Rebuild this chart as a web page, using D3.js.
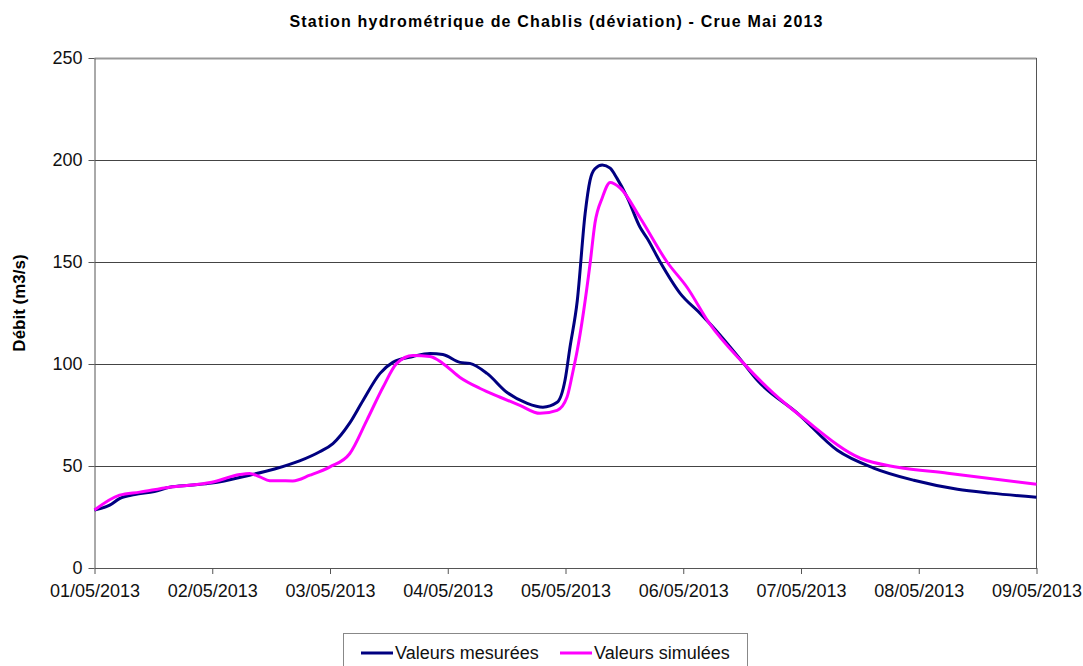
<!DOCTYPE html>
<html>
<head>
<meta charset="utf-8">
<script src="https://cdn.jsdelivr.net/npm/d3@7"></script>
<style>
  body { margin: 0; background: #fff; }
  svg { font-family: "Liberation Sans", Arial, sans-serif; }
  .axis path, .axis line { stroke: #555; }
  .axis text { font-size: 18px; fill: #111; }
</style>
</head>
<body>
<div id="chart"></div>
<script>
// hours after 01/05/2013 00:00
var hoursMes = [0, 3.1, 5.1, 8.2, 12.2, 15.3, 19.4, 23.9, 31.6, 36.7, 41.8, 45.9, 48.6, 52, 54.7, 58.2, 60.8, 64.9, 68.4, 71, 74.5, 76.5, 80, 84.1, 88.2, 91.4, 94.3, 95.9, 96.9, 98.4, 100, 101, 102, 103.5, 105.1, 106.5, 108.6, 111.2, 112.7, 115.3, 119.4, 123.5, 126.1, 132.3, 135.1, 143.3, 151.4, 158.8, 167, 175.9, 182.7, 192];
var valeursMes = [28.4, 30.8, 34, 36, 37.5, 39.6, 40.6, 41.6, 45.5, 48.5, 52.5, 57, 61, 71, 82, 95.4, 100.8, 103.7, 105.2, 104.7, 100.8, 100.3, 95.4, 86, 80.7, 78.8, 81.2, 92, 108, 131, 173.7, 190, 195.7, 197.6, 196, 191, 181.6, 167, 161.4, 150, 134.5, 124.7, 118, 100.3, 92, 75.8, 57.7, 49, 43, 38.6, 36.7, 34.7];

var hoursSim = [0, 5.1, 9.2, 15.3, 23.9, 29.6, 31.6, 33.7, 35.7, 40.4, 43.9, 48, 52, 55.5, 58.8, 61.6, 64.9, 68.4, 71, 74.5, 78.6, 82.7, 86.7, 90.8, 94.3, 96.3, 97.4, 98.4, 101, 102, 103.5, 105.1, 107.1, 111.2, 116.7, 120.8, 125.3, 132.3, 138.4, 144.5, 156.1, 163.7, 173.9, 192];
var valeursSim = [28.4, 35.7, 37.2, 39.6, 42, 45.8, 46.3, 44.7, 42.8, 42.7, 45.5, 49.6, 56, 72.4, 88.6, 100.3, 104.2, 103.7, 100.3, 93.4, 88, 83.7, 79.7, 75.8, 77.3, 83.7, 95, 106.7, 149, 169, 181.5, 189, 186.4, 171.7, 150, 137.5, 120, 100.3, 85.6, 73.4, 53.8, 49.4, 46.5, 41];

var yTicks = [0, 50, 100, 150, 200, 250];
var seriesNames = ["Valeurs mesurées", "Valeurs simulées"];
var seriesColours = ["#000080", "#ff00ff"];

var margin = {top: 58, right: 46.5, bottom: 98, left: 94.5};
var width = 1083 - margin.left - margin.right;
var height = 666 - margin.top - margin.bottom;

var svg = d3.select("#chart")
            .append("svg")
              .attr("width", 1083)
              .attr("height", 666);

var chart = svg.append("g")
               .attr("transform", "translate(" + margin.left + "," + margin.top + ")");

var start = new Date(2013, 4, 1);
function toDate(h) {
  return new Date(start.getTime() + h * 3600 * 1000);
}

var xScale = d3.scaleTime()
               .domain([start, new Date(2013, 4, 9)])
               .range([0, width]);

var yScale = d3.scaleLinear()
               .domain([0, 250])
               .range([height, 0]);

// gridlines
chart.selectAll(".grid")
     .data(yTicks.filter(function(d) { return d > 0; }))
     .enter()
    .append("line")
     .attr("x1", 0)
     .attr("x2", width)
     .attr("y1", function(d) { return Math.round(yScale(d)) + 0.5; })
     .attr("y2", function(d) { return Math.round(yScale(d)) + 0.5; })
     .attr("stroke", function(d) { return d === 250 ? "#999" : "#444"; })
     .attr("stroke-width", function(d) { return d === 250 ? 2 : 1; });

// right border
chart.append("line")
     .attr("x1", width).attr("x2", width)
     .attr("y1", 0).attr("y2", height)
     .attr("stroke", "#555");

// axes
var xAxis = d3.axisBottom(xScale)
              .ticks(d3.timeDay.every(1))
              .tickFormat(d3.timeFormat("%d/%m/%Y"))
              .tickSizeInner(6)
              .tickSizeOuter(0)
              .tickPadding(10);

var yAxis = d3.axisLeft(yScale)
              .tickValues(yTicks)
              .tickSizeInner(6)
              .tickSizeOuter(0)
              .tickPadding(6);

chart.append("g")
     .attr("class", "axis x-axis")
     .attr("transform", "translate(0," + height + ")")
     .call(xAxis);

chart.append("g")
     .attr("class", "axis y-axis")
     .call(yAxis);

// lines
var line = d3.line()
             .x(function(d) { return xScale(d.date); })
             .y(function(d) { return yScale(d.value); })
             .curve(d3.curveMonotoneX);

var series = [
  hoursMes.map(function(h, i) { return {date: toDate(h), value: valeursMes[i]}; }),
  hoursSim.map(function(h, i) { return {date: toDate(h), value: valeursSim[i]}; })
];

chart.selectAll(".serie")
     .data(series)
     .enter()
    .append("path")
     .attr("class", "serie")
     .attr("fill", "none")
     .attr("stroke", function(d, i) { return seriesColours[i]; })
     .attr("stroke-width", 3)
     .attr("stroke-linejoin", "round")
     .attr("d", line);

// title
svg.append("text")
   .attr("x", 556)
   .attr("y", 27)
   .attr("text-anchor", "middle")
   .attr("font-weight", "bold")
   .attr("font-size", "16px")
   .attr("textLength", 533)
   .attr("lengthAdjust", "spacing")
   .text("Station hydrométrique de Chablis (déviation) - Crue Mai 2013");

// y label
svg.append("text")
   .attr("transform", "translate(25,303) rotate(-90)")
   .attr("text-anchor", "middle")
   .attr("font-weight", "bold")
   .attr("font-size", "17px")
   .text("Débit (m3/s)");

// legend
var legend = svg.append("g").attr("class", "legend");

legend.append("rect")
      .attr("x", 343.5)
      .attr("y", 633.5)
      .attr("width", 404)
      .attr("height", 50)
      .attr("fill", "#fff")
      .attr("stroke", "#888");

var legendX = [361, 560];
var legendItems = legend.selectAll(".legend-group")
                        .data(seriesNames)
                        .enter()
                       .append("g")
                        .attr("class", "legend-group");

legendItems.append("line")
           .attr("x1", function(d, i) { return legendX[i]; })
           .attr("x2", function(d, i) { return legendX[i] + 32; })
           .attr("y1", 653)
           .attr("y2", 653)
           .attr("stroke", function(d, i) { return seriesColours[i]; })
           .attr("stroke-width", 3);

legendItems.append("text")
           .attr("x", function(d, i) { return legendX[i] + 34; })
           .attr("y", 659)
           .attr("font-size", "18px")
           .attr("fill", "#111")
           .text(function(d) { return d; });
</script>
</body>
</html>
